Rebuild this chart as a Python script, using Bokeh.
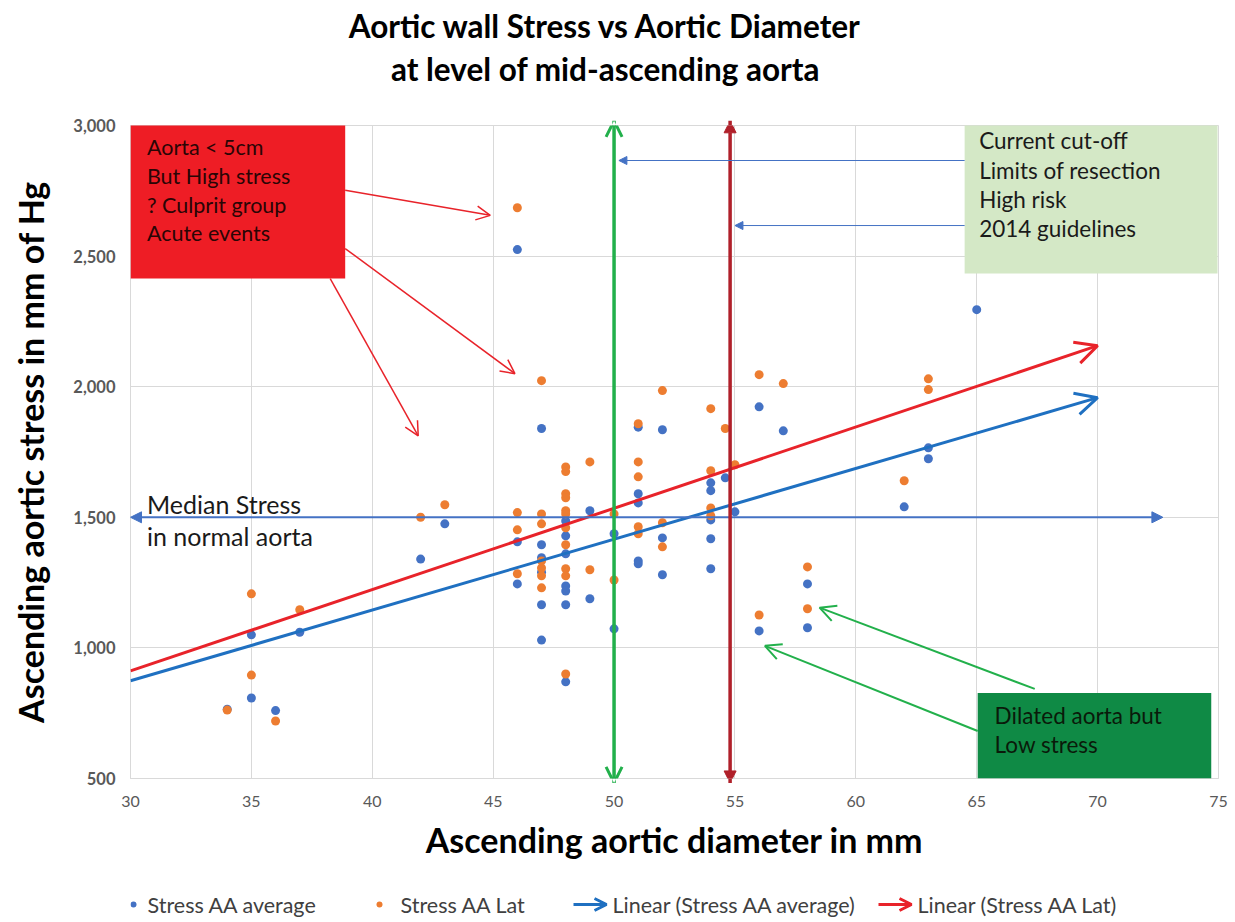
from bokeh.plotting import figure
from bokeh.models import (Range1d, BoxAnnotation, Arrow, OpenHead, NormalHead, Label,
                          NumeralTickFormatter, FixedTicker)
from bokeh.layouts import column
from bokeh.embed import file_html
from bokeh.resources import INLINE
from bokeh.core.properties import value

# ---------------- data ----------------
avg_x = [34, 35, 35, 36, 37, 42, 43, 46, 46, 46,
         47, 47, 47, 47, 47, 47,
         48, 48, 48, 48, 48, 48, 48,
         49, 49, 50, 50,
         51, 51, 51, 51, 51,
         52, 52, 52,
         54, 54, 54, 54, 54, 54.6, 55,
         56, 56, 57, 58, 58, 62, 63, 63, 65]
avg_y = [765, 1050, 808, 760, 1060, 1340, 1475, 2525, 1406, 1245,
         1840, 1395, 1345, 1290, 1165, 1030,
         1486, 1429, 1360, 1237, 1218, 1165, 870,
         1525, 1188, 1437, 1073,
         1845, 1590, 1555, 1333, 1322,
         1835, 1421, 1280,
         1632, 1602, 1490, 1418, 1303, 1651, 1521,
         1923, 1065, 1831, 1245, 1077, 1540, 1766, 1724, 2295]

lat_x = [34, 35, 35, 36, 37, 42, 43, 46, 46, 46, 46,
         47, 47, 47, 47, 47, 47, 47,
         48, 48, 48, 48, 48, 48, 48, 48, 48, 48, 48,
         49, 49, 50, 50,
         51, 51, 51, 51, 51,
         52, 52, 52,
         54, 54, 54, 54, 54.6, 55,
         56, 56, 57, 58, 58, 62, 63, 63]
lat_y = [762, 1207, 896, 720, 1146, 1500, 1548, 2685, 1518, 1452, 1284,
         2023, 1513, 1475, 1333, 1306, 1276, 1230,
         1693, 1675, 1590, 1575, 1525, 1513, 1460, 1395, 1303, 1276, 900,
         1712, 1299, 1513, 1260,
         1858, 1712, 1655, 1464, 1437,
         1985, 1479, 1387,
         1916, 1678, 1536, 1506, 1840, 1701,
         2046, 1126, 2012, 1310, 1150, 1640, 2030, 1989]

trend_x = [30, 70]
trend_avg = [874, 1958]
trend_lat = [912, 2157]

x_ticks = [30, 35, 40, 45, 50, 55, 60, 65, 70, 75]
y_ticks = [500, 1000, 1500, 2000, 2500, 3000]

median_stress = 1500
median_x_end = 72.7
cutoff_current = 50
cutoff_2014 = 54.8

title_lines = ["Aortic wall Stress vs Aortic Diameter", "at level of mid-ascending aorta"]
red_box_lines = ["Aorta < 5cm", "But High stress", "? Culprit group", "Acute events"]
lightgreen_lines = ["Current cut-off", "Limits of resection", "High risk", "2014 guidelines"]
darkgreen_lines = ["Dilated aorta but", "Low stress"]
median_lines = ["Median Stress", "in normal aorta"]
legend_labels = ["Stress AA average", "Stress AA Lat", "Linear (Stress AA average)", "Linear (Stress AA Lat)"]

# ---------------- colours ----------------
BLUE = "#4472C4"
ORANGE = "#ED7D31"
TBLUE = "#1F70C1"
TRED = "#E8232A"
GREEN = "#22B04B"
DRED = "#B0202A"
BOXRED = "#EE1D25"
LGREEN = "#D4E8C6"
DGREEN = "#0F8A45"
FONT = "Lato"

W = 1230
BL, BR = 130, 12          # left / right borders -> frame spans page x 130..1218
FX0, FX1 = BL, W - BR

# ---------------- title ----------------
TH = 100
t = figure(width=W, height=TH, x_range=Range1d(FX0, FX1), y_range=Range1d(TH, 0),
           output_backend="svg", toolbar_location=None,
           min_border_left=BL, min_border_right=BR, min_border_top=0, min_border_bottom=0,
           x_axis_location=None, y_axis_location=None)
t.grid.visible = False
t.outline_line_color = None
t.text(x=[605, 605], y=[25, 68], text=title_lines, text_font=value(FONT),
       text_font_style="bold", text_font_size="31.5px", text_align="center",
       text_baseline="middle", text_color="#000000")

# ---------------- main plot ----------------
MH = 780
p = figure(width=W, height=MH, x_range=Range1d(30, 75), y_range=Range1d(500, 3000),
           output_backend="svg", toolbar_location=None,
           min_border_left=BL, min_border_right=BR, min_border_top=25, min_border_bottom=102)
p.outline_line_color = "#D9D9D9"
p.grid.grid_line_color = "#D9D9D9"
p.grid.grid_line_width = 1
p.xaxis.ticker = FixedTicker(ticks=x_ticks)
p.yaxis.ticker = FixedTicker(ticks=y_ticks)
p.yaxis.formatter = NumeralTickFormatter(format="0,0")
p.xgrid.ticker = FixedTicker(ticks=x_ticks)
p.ygrid.ticker = FixedTicker(ticks=y_ticks)
for ax in (p.xaxis, p.yaxis):
    ax.axis_line_color = "#D9D9D9"
    ax.major_tick_line_color = None
    ax.minor_tick_line_color = None
    ax.major_label_text_color = "#595959"
    ax.major_label_text_font = FONT
    ax.axis_label_text_font = FONT
    ax.axis_label_text_font_style = "bold"
    ax.axis_label_text_color = "#000000"
p.xaxis.major_label_text_font_size = "16px"
p.yaxis.major_label_text_font_size = "16.5px"
p.yaxis.major_label_text_font_style = "bold"
p.xaxis.axis_label_text_font_size = "34px"
p.yaxis.axis_label_text_font_size = "34px"
p.xaxis.major_label_standoff = 11
p.yaxis.major_label_standoff = 9
p.xaxis.axis_label = "Ascending aortic diameter in mm"
p.yaxis.axis_label = "Ascending aortic stress in mm of Hg"
p.xaxis.axis_label_standoff = 9
p.yaxis.axis_label_standoff = 19

p.scatter(avg_x, avg_y, size=9, color=BLUE, line_color=None)
p.scatter(lat_x, lat_y, size=9, color=ORANGE, line_color=None)

# trend lines with arrow heads
p.add_layout(Arrow(x_start=trend_x[0], y_start=trend_avg[0], x_end=trend_x[1], y_end=trend_avg[1],
                   line_color=TBLUE, line_width=3,
                   end=OpenHead(size=22, line_color=TBLUE, line_width=3)))
p.add_layout(Arrow(x_start=trend_x[0], y_start=trend_lat[0], x_end=trend_x[1], y_end=trend_lat[1],
                   line_color=TRED, line_width=3,
                   end=OpenHead(size=22, line_color=TRED, line_width=3)))

# median stress double arrow
p.add_layout(Arrow(x_start=30, y_start=median_stress, x_end=median_x_end, y_end=median_stress,
                   line_color=BLUE, line_width=2,
                   start=NormalHead(size=11, fill_color=BLUE, line_color=BLUE),
                   end=NormalHead(size=11, fill_color=BLUE, line_color=BLUE)))
for i, s in enumerate(median_lines):
    p.add_layout(Label(x=30.68, y=[1551, 1429][i], text=s, text_font=FONT, text_font_size="25px",
                       text_baseline="middle", text_color="#1a1a1a"))

# vertical cut-off arrows
p.add_layout(Arrow(x_start=cutoff_current, y_start=483, x_end=cutoff_current, y_end=3018,
                   line_color=GREEN, line_width=3.5,
                   start=OpenHead(size=16, line_color=GREEN, line_width=3),
                   end=OpenHead(size=16, line_color=GREEN, line_width=3)))
p.add_layout(Arrow(x_start=cutoff_2014, y_start=483, x_end=cutoff_2014, y_end=3018,
                   line_color=DRED, line_width=3.5,
                   start=NormalHead(size=12, fill_color=DRED, line_color=DRED),
                   end=NormalHead(size=12, fill_color=DRED, line_color=DRED)))

# red box
p.add_layout(BoxAnnotation(left=30, right=38.88, bottom=2414, top=3010,
                           fill_color=BOXRED, fill_alpha=1, line_color=None))
for i, s in enumerate(red_box_lines):
    p.add_layout(Label(x=30.68, y=[2916, 2805, 2694, 2587][i], text=s, text_font=FONT,
                       text_font_size="21.5px", text_baseline="middle", text_color="#2a0505"))
for xs, ys, xe, ye in [(38.88, 2752, 44.88, 2656), (38.88, 2529, 45.9, 2050), (38.26, 2414, 41.9, 1812)]:
    p.add_layout(Arrow(x_start=xs, y_start=ys, x_end=xe, y_end=ye, line_color=TRED, line_width=1.5,
                       end=OpenHead(size=14, line_color=TRED, line_width=1.5)))

# light green box
p.add_layout(BoxAnnotation(left=64.5, right=74.96, bottom=2433, top=3020,
                           fill_color=LGREEN, fill_alpha=1, line_color=None))
for i, s in enumerate(lightgreen_lines):
    p.add_layout(Label(x=65.1, y=[2942, 2828, 2716, 2605][i], text=s, text_font=FONT,
                       text_font_size="22.5px", text_baseline="middle", text_color="#1a1a1a"))
for ye, xe in [(2866, 50.2), (2617, 55.0)]:
    p.add_layout(Arrow(x_start=64.5, y_start=ye, x_end=xe, y_end=ye, line_color=BLUE, line_width=1,
                       end=NormalHead(size=8, fill_color=BLUE, line_color=BLUE)))

# dark green box
p.add_layout(BoxAnnotation(left=65.04, right=74.7, bottom=500, top=827,
                           fill_color=DGREEN, fill_alpha=1, line_color=None))
for i, s in enumerate(darkgreen_lines):
    p.add_layout(Label(x=65.74, y=[743, 632][i], text=s, text_font=FONT,
                       text_font_size="22.5px", text_baseline="middle", text_color="#0a1a0a"))
for xs, ys, xe, ye in [(67.4, 843, 58.5, 1154), (65.04, 682, 56.24, 1008)]:
    p.add_layout(Arrow(x_start=xs, y_start=ys, x_end=xe, y_end=ye, line_color=GREEN, line_width=2,
                       end=OpenHead(size=16, line_color=GREEN, line_width=2)))

# ---------------- legend ----------------
LH = 40
top_l = TH + MH
lg = figure(width=W, height=LH, x_range=Range1d(FX0, FX1), y_range=Range1d(top_l + LH, top_l),
            output_backend="svg", toolbar_location=None,
            min_border_left=BL, min_border_right=BR, min_border_top=0, min_border_bottom=0,
            x_axis_location=None, y_axis_location=None)
lg.grid.visible = False
lg.outline_line_color = None
LY = 904
lg.scatter([133], [LY], size=6, color=BLUE, line_color=None)
lg.scatter([379], [LY], size=6, color=ORANGE, line_color=None)
lg.add_layout(Arrow(x_start=573, y_start=LY, x_end=606, y_end=LY, line_color=TBLUE, line_width=3,
                    end=OpenHead(size=12, line_color=TBLUE, line_width=3)))
lg.add_layout(Arrow(x_start=878, y_start=LY, x_end=911, y_end=LY, line_color=TRED, line_width=3,
                    end=OpenHead(size=12, line_color=TRED, line_width=3)))
lg.text(x=[147, 400, 612, 917], y=[LY] * 4, text=legend_labels, text_font=value(FONT),
        text_font_size="21.5px", text_baseline="middle", text_color="#404040")

layout = column(t, p, lg, spacing=0)
open("out.html", "w").write(file_html(layout, INLINE))
